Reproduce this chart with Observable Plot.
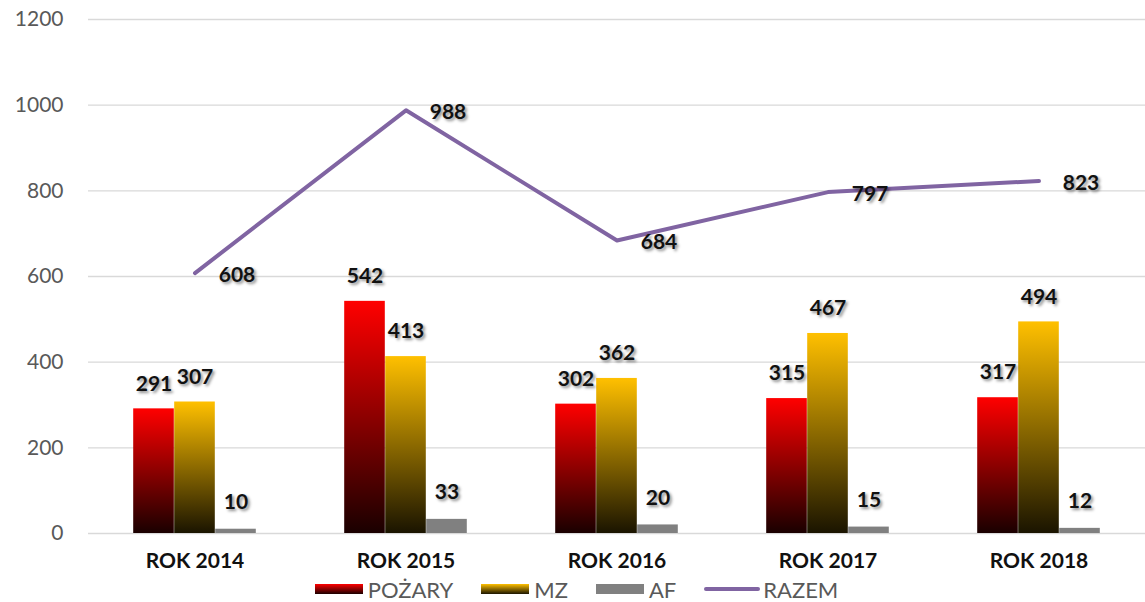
<!DOCTYPE html>
<html>
<head>
<meta charset="utf-8">
<script src="https://cdn.jsdelivr.net/npm/d3@7"></script>
<script src="https://cdn.jsdelivr.net/npm/@observablehq/plot@0.6"></script>
<style>
  html, body { margin: 0; padding: 0; background: #fff; }
  #chart { width: 1145px; height: 602px; position: relative; font-family: Lato, "Open Sans", sans-serif; }
  .lbl text { text-shadow: 2px 2px 3px rgba(0,0,0,0.45); }
  #legend { position: absolute; left: 4px; top: 576px; width: 1145px; height: 26px; display: flex; justify-content: center; align-items: center; font-size: 22px; color: #595959; }
  .item { display: flex; align-items: center; margin: 0 14px; }
  .sw { width: 48px; height: 10px; margin-right: 5px; }
  .ln { width: 56px; height: 4px; border-radius: 2px; margin-right: 3px; background: #8064a2; }
</style>
</head>
<body>
<div id="chart"></div>
<script>
const years = ["ROK 2014", "ROK 2015", "ROK 2016", "ROK 2017", "ROK 2018"];
const pozary = [291, 542, 302, 315, 317];
const mz = [307, 413, 362, 467, 494];
const af = [10, 33, 20, 15, 12];
const razem = [608, 988, 684, 797, 823];
const yTicks = [0, 200, 400, 600, 800, 1000, 1200];
const seriesNames = ["POŻARY", "MZ", "AF", "RAZEM"];

const W = 1145, H = 576, mL = 88, mR = 0, mT = 19, mB = 43;
const bw = (W - mL - mR) / years.length;
const barW = 41;
const inset = (bw - barW) / 2;

const rows = (vals) => years.map((y, i) => ({year: y, value: vals[i]}));
const pRows = rows(pozary), mRows = rows(mz), aRows = rows(af), rRows = rows(razem);

const labelStyle = {fontSize: 21, fontWeight: "bold", fill: "#111", className: "lbl"};

const svg = Plot.plot({
  width: W, height: H,
  marginLeft: mL, marginRight: mR, marginTop: mT, marginBottom: mB,
  style: {fontFamily: "Lato, 'Open Sans', sans-serif", background: "#fff"},
  x: {type: "band", domain: years, padding: 0, label: null, tickSize: 0, tickPadding: 20},
  y: {domain: [0, 1200], ticks: yTicks, tickFormat: d => String(d), label: null, tickSize: 0, tickPadding: 25},
  marks: [
    Plot.ruleY(yTicks, {stroke: "#d9d9d9", strokeWidth: 1.4}),
    Plot.barY(pRows, {x: "year", y: "value", fill: "url(#gRed)", insetLeft: inset, insetRight: inset, dx: -barW}),
    Plot.barY(mRows, {x: "year", y: "value", fill: "url(#gYel)", insetLeft: inset, insetRight: inset, dx: 0}),
    Plot.barY(aRows, {x: "year", y: "value", fill: "#808080", insetLeft: inset, insetRight: inset, dx: barW}),
    Plot.line(rRows, {x: "year", y: "value", stroke: "#8064a2", strokeWidth: 4}),
    Plot.text(pRows, {x: "year", y: "value", text: "value", dx: -barW, dy: -25, ...labelStyle}),
    Plot.text(mRows, {x: "year", y: "value", text: "value", dx: 0, dy: -25, ...labelStyle}),
    Plot.text(aRows, {x: "year", y: "value", text: "value", dx: barW, dy: -27, ...labelStyle}),
    Plot.text(rRows, {x: "year", y: "value", text: "value", dx: 42, dy: 2, ...labelStyle})
  ]
});

const s = d3.select(svg);
s.insert("defs", ":first-child").html(`
  <linearGradient id="gRed" x1="0" y1="0" x2="0" y2="1">
    <stop offset="0" stop-color="#ff0000"/>
    <stop offset="1" stop-color="#1a0000"/>
  </linearGradient>
  <linearGradient id="gYel" x1="0" y1="0" x2="0" y2="1">
    <stop offset="0" stop-color="#ffc000"/>
    <stop offset="1" stop-color="#1a1400"/>
  </linearGradient>`);
s.selectAll('g[aria-label^="y-axis"]').attr("fill", "#595959").style("font-size", "21px");
s.selectAll('g[aria-label^="y-axis"] text').attr("fill", "#595959").style("font-size", "21px");
s.selectAll('g[aria-label^="x-axis"]').attr("fill", "#111").style("font-size", "21px").style("font-weight", "bold");
s.selectAll('g[aria-label^="x-axis"] text').attr("fill", "#111").style("font-size", "21px").style("font-weight", "bold");

const chart = document.getElementById("chart");
chart.appendChild(svg);

const legend = document.createElement("div");
legend.id = "legend";
const swatches = [
  "linear-gradient(#ff0000, #1a0000)",
  "linear-gradient(#ffc000, #1a1400)",
  "#808080"
];
seriesNames.forEach((name, i) => {
  const item = document.createElement("div");
  item.className = "item";
  const sw = document.createElement("div");
  if (i < 3) { sw.className = "sw"; sw.style.background = swatches[i]; }
  else { sw.className = "ln"; }
  const t = document.createElement("span");
  t.textContent = name;
  item.appendChild(sw); item.appendChild(t);
  legend.appendChild(item);
});
chart.appendChild(legend);
</script>
</body>
</html>
